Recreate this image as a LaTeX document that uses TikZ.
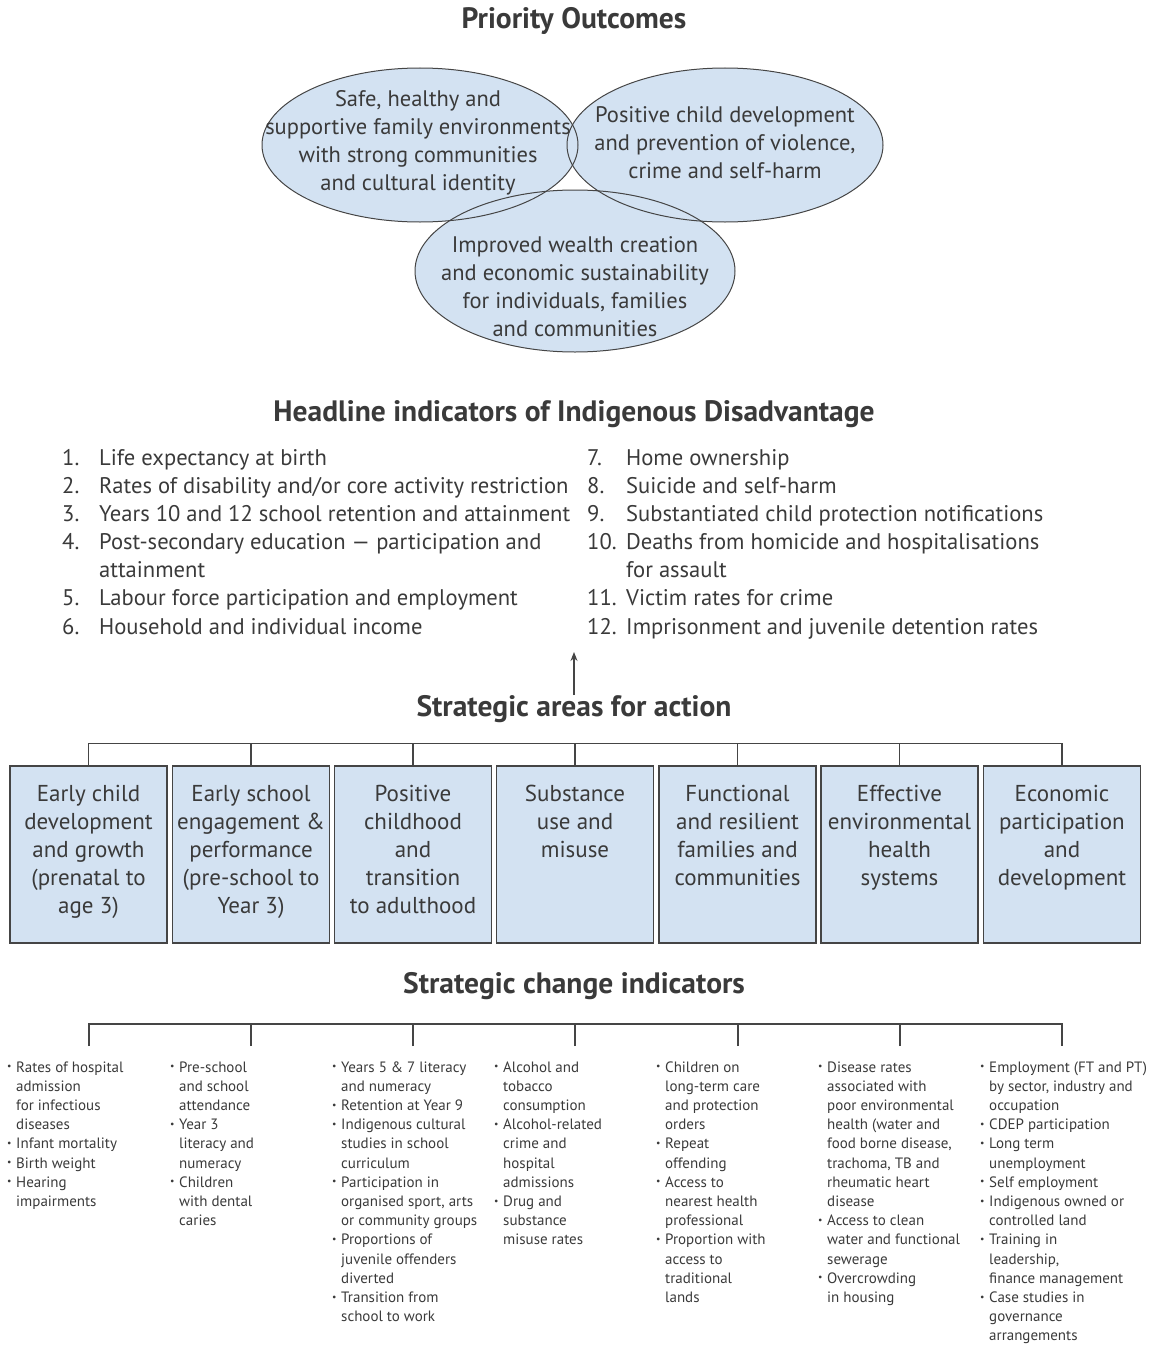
\documentclass[tikz,border=0pt]{standalone}
\usepackage{fontspec}
\setmainfont{PT Sans}
\usepackage{graphicx}
\usetikzlibrary{arrows.meta,positioning}
\usepackage{xcolor}

\definecolor{ovalblue}{HTML}{D3E2F2}
\definecolor{inkgray}{HTML}{3A3A3A}
\definecolor{rulegray}{HTML}{454545}

\newcommand{\bul}{\makebox[9pt][l]{\raisebox{0.3ex}{\scalebox{0.65}{\textbullet}}}}
\newcommand{\areatext}[1]{\parbox[c][177pt][t]{157pt}{\centering\rule{0pt}{35pt}\ignorespaces#1}}

\begin{document}
\begin{tikzpicture}[x=1pt, y=-1pt,
  heading/.style={font=\fontsize{29.5}{34}\selectfont\bfseries, text=inkgray, inner sep=0pt},
  oval/.style={fill=ovalblue},
  ovalline/.style={draw=rulegray, line width=1pt},
  ovaltext/.style={font=\fontsize{22.5}{28}\selectfont, text=inkgray, align=center, inner sep=0pt},
  numlist/.style={font=\fontsize{22.6}{28.17}\selectfont, text=inkgray, inner sep=0pt, anchor=base west},
  areabox/.style={draw=rulegray, fill=ovalblue, line width=1.3pt, inner sep=0pt,
                  font=\fontsize{23}{28}\selectfont, text=inkgray},
  bullets/.style={font=\fontsize{15}{19.2}\selectfont, text=inkgray, inner sep=0pt, anchor=base west},
  link/.style={rulegray, line width=1.2pt},
]
  \useasboundingbox (0,0) rectangle (1167,1346);

  % --- Priority outcomes ---
  \node[heading] (prio) at (574,21) {Priority Outcomes};

  \fill[oval] (420,145) ellipse [x radius=158, y radius=77];
  \fill[oval] (725,145) ellipse [x radius=158, y radius=77];
  \fill[oval] (575,271) ellipse [x radius=160, y radius=81];
  \draw[ovalline] (420,145) ellipse [x radius=158, y radius=77];
  \draw[ovalline] (725,145) ellipse [x radius=158, y radius=77];
  \draw[ovalline] (575,271) ellipse [x radius=160, y radius=81];

  \node[ovaltext] (family) at (418,143) {Safe, healthy and\\supportive family environments\\with strong communities\\and cultural identity};
  \node[ovaltext] (child) at (725,143) {Positive child development\\and prevention of violence,\\crime and self-harm};
  \node[ovaltext] (wealth) at (575,287) {Improved wealth creation\\and economic sustainability\\for individuals, families\\and communities};

  % --- Headline indicators ---
  \node[heading] (headline) at (574,414) {Headline indicators of Indigenous Disadvantage};

  \node[numlist] (listL) at (62,465) {\begin{tabular}[t]{@{}l@{}l@{}}
    \makebox[37pt][l]{1.} & Life expectancy at birth\\
    \makebox[37pt][l]{2.} & Rates of disability and/or core activity restriction\\
    \makebox[37pt][l]{3.} & Years 10 and 12 school retention and attainment\\
    \makebox[37pt][l]{4.} & Post-secondary education --- participation and\\
                          & attainment\\
    \makebox[37pt][l]{5.} & Labour force participation and employment\\
    \makebox[37pt][l]{6.} & Household and individual income
  \end{tabular}};
  \node[numlist] (listR) at (587,465) {\begin{tabular}[t]{@{}l@{}l@{}}
    \makebox[39pt][l]{7.} & Home ownership\\
    \makebox[39pt][l]{8.} & Suicide and self-harm\\
    \makebox[39pt][l]{9.} & Substantiated child protection notifications\\
    \makebox[39pt][l]{10.} & Deaths from homicide and hospitalisations\\
                           & for assault\\
    \makebox[39pt][l]{11.} & Victim rates for crime\\
    \makebox[39pt][l]{12.} & Imprisonment and juvenile detention rates
  \end{tabular}};

  % --- Strategic areas for action ---
  \node[heading] (areas) at (574,709) {Strategic areas for action};
  \coordinate (tip) at (574,652);
  \draw[link, -{Stealth[length=9pt, width=7pt]}] (areas.north) -- (tip);

  \node[areabox] (a1) at (88.5,854.5) {\areatext{Early child\\development\\and growth\\(prenatal to\\age 3)}};
  \node[areabox] (a2) at (251,854.5)  {\areatext{Early school\\engagement \&\\performance\\(pre-school to\\Year 3)}};
  \node[areabox] (a3) at (413,854.5)  {\areatext{Positive\\childhood\\and\\transition\\to adulthood}};
  \node[areabox] (a4) at (575,854.5)  {\areatext{Substance\\use and\\misuse}};
  \node[areabox] (a5) at (737.5,854.5) {\areatext{Functional\\and resilient\\families and\\communities}};
  \node[areabox] (a6) at (899.5,854.5) {\areatext{Effective\\environmental\\health\\systems}};
  \node[areabox] (a7) at (1062,854.5) {\areatext{Economic\\participation\\and\\development}};

  \draw[link] (a1.north) -- ++(0,-22) -| (a7.north);
  \foreach \i in {2,...,6}
    \draw[link] (a\i.north) -- ++(0,-22);

  % --- Strategic change indicators ---
  \node[heading] (change) at (574,986) {Strategic change indicators};

  \foreach \i/\x in {1/89,2/251,3/413,4/575,5/738,6/900,7/1062}
    \coordinate (c\i) at (\x,1046);
  \draw[link] (c1) -- ++(0,-22) -| (c7);
  \foreach \i in {2,...,6}
    \draw[link] (c\i) -- ++(0,-22);

  \node[bullets] (s1) at (7,1072) {\begin{tabular}[t]{@{}l@{}l@{}}
    \bul & Rates of hospital\\ & admission\\ & for infectious\\ & diseases\\
    \bul & Infant mortality\\
    \bul & Birth weight\\
    \bul & Hearing\\ & impairments
  \end{tabular}};
  \node[bullets] (s2) at (170,1072) {\begin{tabular}[t]{@{}l@{}l@{}}
    \bul & Pre-school\\ & and school\\ & attendance\\
    \bul & Year 3\\ & literacy and\\ & numeracy\\
    \bul & Children\\ & with dental\\ & caries
  \end{tabular}};
  \node[bullets] (s3) at (332,1072) {\begin{tabular}[t]{@{}l@{}l@{}}
    \bul & Years 5 \& 7 literacy\\ & and numeracy\\
    \bul & Retention at Year 9\\
    \bul & Indigenous cultural\\ & studies in school\\ & curriculum\\
    \bul & Participation in\\ & organised sport, arts\\ & or community groups\\
    \bul & Proportions of\\ & juvenile offenders\\ & diverted\\
    \bul & Transition from\\ & school to work
  \end{tabular}};
  \node[bullets] (s4) at (494,1072) {\begin{tabular}[t]{@{}l@{}l@{}}
    \bul & Alcohol and\\ & tobacco\\ & consumption\\
    \bul & Alcohol-related\\ & crime and\\ & hospital\\ & admissions\\
    \bul & Drug and\\ & substance\\ & misuse rates
  \end{tabular}};
  \node[bullets] (s5) at (656,1072) {\begin{tabular}[t]{@{}l@{}l@{}}
    \bul & Children on\\ & long-term care\\ & and protection\\ & orders\\
    \bul & Repeat\\ & offending\\
    \bul & Access to\\ & nearest health\\ & professional\\
    \bul & Proportion with\\ & access to\\ & traditional\\ & lands
  \end{tabular}};
  \node[bullets] (s6) at (818,1072) {\begin{tabular}[t]{@{}l@{}l@{}}
    \bul & Disease rates\\ & associated with\\ & poor environmental\\ & health (water and\\
         & food borne disease,\\ & trachoma, TB and\\ & rheumatic heart\\ & disease\\
    \bul & Access to clean\\ & water and functional\\ & sewerage\\
    \bul & Overcrowding\\ & in housing
  \end{tabular}};
  \node[bullets] (s7) at (980,1072) {\begin{tabular}[t]{@{}l@{}l@{}}
    \bul & Employment (FT and PT)\\ & by sector, industry and\\ & occupation\\
    \bul & CDEP participation\\
    \bul & Long term\\ & unemployment\\
    \bul & Self employment\\
    \bul & Indigenous owned or\\ & controlled land\\
    \bul & Training in\\ & leadership,\\ & finance management\\
    \bul & Case studies in\\ & governance\\ & arrangements
  \end{tabular}};
\end{tikzpicture}
\end{document}
